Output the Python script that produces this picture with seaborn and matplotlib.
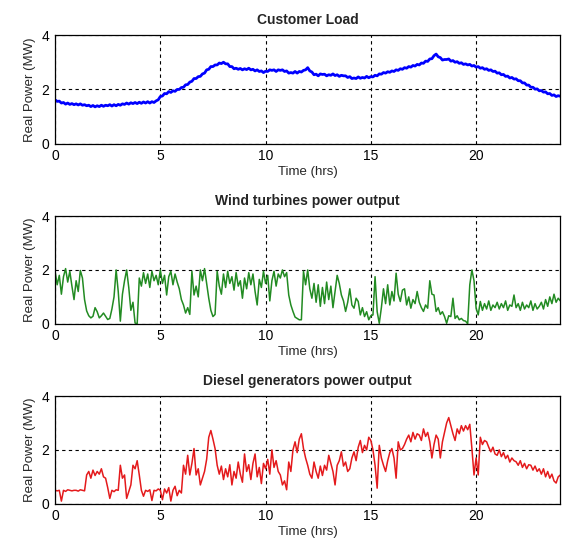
import numpy as np
import pandas as pd
import seaborn as sns
import matplotlib.pyplot as plt

# sample times, every 0.1 hr over the day
hours = np.linspace(0, 24, 241)

# customer load (MW)
load_mw = [
    1.62, 1.56, 1.57, 1.50, 1.52, 1.46, 1.50, 1.45, 1.48, 1.44,
    1.47, 1.43, 1.47, 1.42, 1.44, 1.40, 1.42, 1.37, 1.41, 1.36,
    1.40, 1.37, 1.42, 1.38, 1.42, 1.40, 1.44, 1.39, 1.44, 1.40,
    1.45, 1.42, 1.47, 1.45, 1.50, 1.46, 1.51, 1.48, 1.52, 1.48,
    1.53, 1.49, 1.54, 1.50, 1.55, 1.50, 1.55, 1.52, 1.58, 1.62,
    1.74, 1.76, 1.85, 1.84, 1.92, 1.89, 1.95, 1.93, 2.00, 2.00,
    2.07, 2.08, 2.17, 2.18, 2.27, 2.30, 2.40, 2.40, 2.47, 2.48,
    2.57, 2.60, 2.72, 2.74, 2.84, 2.84, 2.90, 2.90, 2.97, 2.95,
    3.00, 2.94, 2.94, 2.84, 2.84, 2.76, 2.78, 2.74, 2.77, 2.72,
    2.76, 2.73, 2.78, 2.72, 2.74, 2.68, 2.72, 2.66, 2.68, 2.62,
    2.67, 2.66, 2.72, 2.70, 2.72, 2.66, 2.72, 2.70, 2.72, 2.66,
    2.68, 2.60, 2.62, 2.60, 2.66, 2.60, 2.66, 2.64, 2.70, 2.72,
    2.80, 2.68, 2.64, 2.54, 2.56, 2.50, 2.57, 2.55, 2.56, 2.50,
    2.54, 2.52, 2.57, 2.51, 2.54, 2.48, 2.52, 2.50, 2.50, 2.44,
    2.47, 2.40, 2.42, 2.40, 2.46, 2.41, 2.44, 2.42, 2.48, 2.43,
    2.47, 2.46, 2.52, 2.50, 2.57, 2.56, 2.62, 2.60, 2.65, 2.63,
    2.68, 2.66, 2.72, 2.70, 2.76, 2.74, 2.80, 2.78, 2.84, 2.82,
    2.88, 2.86, 2.92, 2.90, 2.97, 2.96, 3.04, 3.03, 3.12, 3.13,
    3.24, 3.30, 3.20, 3.17, 3.08, 3.10, 3.10, 3.12, 3.04, 3.06,
    3.00, 3.02, 2.96, 2.98, 2.92, 2.94, 2.90, 2.92, 2.86, 2.88,
    2.82, 2.84, 2.78, 2.80, 2.74, 2.76, 2.70, 2.72, 2.66, 2.67,
    2.60, 2.61, 2.54, 2.55, 2.48, 2.49, 2.42, 2.44, 2.38, 2.39,
    2.32, 2.32, 2.24, 2.24, 2.16, 2.16, 2.08, 2.08, 2.01, 2.02,
    1.95, 1.96, 1.90, 1.91, 1.84, 1.85, 1.78, 1.80, 1.74, 1.77,
    1.75,
]

# wind turbines output (MW)
wind_mw = [
    1.95, 1.45, 1.80, 1.10, 1.75, 2.05, 1.55, 1.95, 1.40, 0.90,
    1.60, 1.20, 1.98, 1.70, 0.90, 0.48, 0.30, 0.22, 0.28, 0.60,
    0.45, 0.22, 0.30, 0.40, 0.28, 0.16, 0.20, 0.55, 1.00, 2.00,
    1.20, 0.10, 1.10, 1.60, 2.00, 1.35, 0.50, 0.80, 0.03, 0.00,
    1.70, 1.40, 1.90, 1.50, 1.85, 1.35, 1.95, 1.60, 1.80, 1.45,
    2.00, 1.50, 1.80, 1.07, 1.75, 1.95, 1.45, 1.85, 1.55, 1.30,
    0.90, 0.70, 0.40, 0.60, 0.35, 1.95, 1.07, 1.40, 1.00, 2.00,
    1.60, 2.05, 1.50, 0.95, 0.50, 0.27, 0.35, 1.95, 1.40, 1.10,
    1.85, 1.35, 1.95, 1.50, 1.75, 1.25, 1.90, 1.40, 1.60, 0.95,
    1.70, 1.30, 1.90, 1.45, 1.85, 1.20, 0.70, 1.65, 1.35, 1.95,
    1.50, 1.80, 0.85, 1.60, 1.95, 1.40, 1.85, 1.70, 2.00, 1.75,
    1.90, 1.07, 0.70, 0.46, 0.25, 0.20, 0.15, 0.15, 1.95, 1.45,
    2.00, 1.30, 0.95, 1.50, 0.80, 1.45, 0.65, 1.35, 0.75, 1.55,
    0.90, 1.40, 0.60, 1.20, 1.80, 1.50, 1.07, 0.85, 0.46, 0.80,
    1.30, 0.70, 0.58, 0.95, 0.83, 0.33, 0.60, 0.27, 0.45, 0.15,
    0.30, 0.33, 1.75, 0.45, 0.02, 0.60, 1.30, 0.75, 1.45, 0.70,
    1.20, 0.85, 1.88, 1.10, 0.83, 1.25, 1.30, 0.70, 1.00, 0.58,
    0.90, 0.75, 1.20, 0.80, 0.60, 0.46, 0.70, 0.58, 1.60, 1.10,
    1.07, 0.46, 0.60, 0.35, 0.45, 0.27, 0.02, 0.30, 0.27, 0.95,
    0.20, 0.30, 0.15, 0.20, 0.12, 0.10, 0.00, 1.45, 2.00, 1.60,
    0.58, 0.33, 0.83, 0.50, 0.75, 0.55, 0.85, 0.50, 0.70, 0.60,
    0.80, 0.55, 0.75, 0.60, 0.85, 0.50, 0.70, 0.65, 1.07, 0.60,
    0.75, 0.50, 0.80, 0.55, 0.70, 0.60, 0.85, 0.50, 0.75, 0.55,
    0.65, 0.80, 0.55, 0.90, 0.65, 1.00, 0.75, 1.10, 0.80, 0.95,
    0.85,
]

# diesel generators output (MW)
diesel_mw = [
    0.50, 0.48, 0.50, 0.10, 0.50, 0.46, 0.52, 0.50, 0.48, 0.50,
    0.50, 0.47, 0.52, 0.50, 0.48, 1.07, 1.20, 0.95, 1.25, 1.05,
    1.20, 1.10, 1.30, 1.00, 0.95, 0.60, 0.20, 0.50, 0.45, 0.52,
    0.50, 1.43, 0.95, 1.07, 0.20, 0.45, 0.70, 1.43, 1.30, 1.60,
    1.07, 0.50, 0.28, 0.50, 0.46, 0.52, 0.12, 0.50, 0.48, 0.55,
    0.50, 0.15, 0.55, 0.40, 0.60, 0.10, 0.50, 0.65, 0.30, 0.50,
    0.40, 1.43, 1.10, 1.80, 1.07, 1.50, 2.05, 1.07, 1.30, 0.70,
    0.95, 1.20, 1.65, 2.47, 2.72, 2.40, 2.05, 1.43, 1.10, 1.40,
    0.90, 1.30, 1.00, 1.45, 0.70, 1.20, 0.95, 1.55, 1.10, 0.80,
    1.85, 1.20, 1.45, 0.90, 1.50, 1.85, 1.00, 1.35, 0.75, 1.50,
    1.30, 1.65, 1.10, 2.00, 1.35, 1.60, 1.20, 1.07, 0.70, 0.85,
    0.52, 1.55, 1.20, 2.00, 2.30, 1.90, 2.40, 2.60, 2.05, 1.70,
    1.43, 1.10, 0.95, 1.55, 1.20, 0.95, 1.40, 1.05, 1.43, 1.25,
    1.80, 1.50, 1.20, 0.70, 1.43, 1.60, 1.93, 1.40, 1.55, 1.20,
    1.30, 1.70, 1.93, 1.60, 2.10, 2.35, 1.90, 2.17, 2.00, 2.47,
    2.35, 2.00, 1.43, 0.58, 2.17, 1.70, 1.43, 1.20, 1.60, 1.90,
    2.05, 1.70, 0.95, 2.30, 2.00, 2.05, 2.20, 2.40, 2.55, 2.30,
    2.65, 2.40, 2.60, 2.55, 2.35, 2.78, 2.50, 2.65, 2.30, 1.70,
    2.20, 2.55, 2.40, 1.70, 2.30, 2.65, 3.00, 3.20, 2.90, 2.60,
    2.35, 2.78, 2.60, 2.90, 2.70, 2.90, 2.75, 2.95, 2.05, 1.07,
    1.70, 1.07, 2.47, 2.20, 2.35, 2.30, 2.10, 1.93, 2.10, 1.85,
    1.80, 2.00, 1.75, 1.90, 1.68, 1.80, 1.55, 1.70, 1.60, 1.56,
    1.43, 1.60, 1.35, 1.50, 1.30, 1.45, 1.43, 1.25, 1.40, 1.20,
    1.30, 1.10, 1.30, 1.00, 1.20, 0.95, 1.10, 0.85, 0.77, 1.00,
    1.07,
]

titles = ["Customer Load", "Wind turbines power output",
          "Diesel generators power output"]
series = [load_mw, wind_mw, diesel_mw]
colors = ["#0000ff", "#228b22", "#e41a1c"]
widths = [2.0, 1.1, 1.1]

sns.set_style("white")
plt.rcParams["font.family"] = ["Liberation Sans", "DejaVu Sans"]

fig = plt.figure(figsize=(5.62, 5.47), dpi=100)
# axes boxes in figure fractions (left, bottom, width, height)
boxes = [(0.098, 0.737, 0.899, 0.199),
         (0.098, 0.408, 0.899, 0.197),
         (0.098, 0.079, 0.899, 0.197)]

for box, title, vals, col, lw in zip(boxes, titles, series, colors, widths):
    ax = fig.add_axes(box)
    df = pd.DataFrame({"hrs": hours, "mw": vals})
    sns.lineplot(data=df, x="hrs", y="mw", ax=ax, color=col, linewidth=lw)
    ax.set_xlim(0, 24)
    ax.set_ylim(0, 4)
    ax.set_xticks([0, 5, 10, 15, 20])
    ax.set_yticks([0, 2, 4])
    ax.grid(True, linestyle=(0, (3, 3)), color="black", linewidth=0.8)
    ax.tick_params(direction="in", length=3, labelsize=10, colors="black",
                   pad=4)
    for s in ax.spines.values():
        s.set_color("black")
        s.set_linewidth(0.9)
    ax.set_title(title, fontsize=10, fontweight="bold", pad=8)
    ax.set_xlabel("Time (hrs)", fontsize=9.5, labelpad=2)
    ax.set_ylabel("Real Power (MW)", fontsize=9.5, labelpad=4)

fig.savefig("out.png", dpi=100)
